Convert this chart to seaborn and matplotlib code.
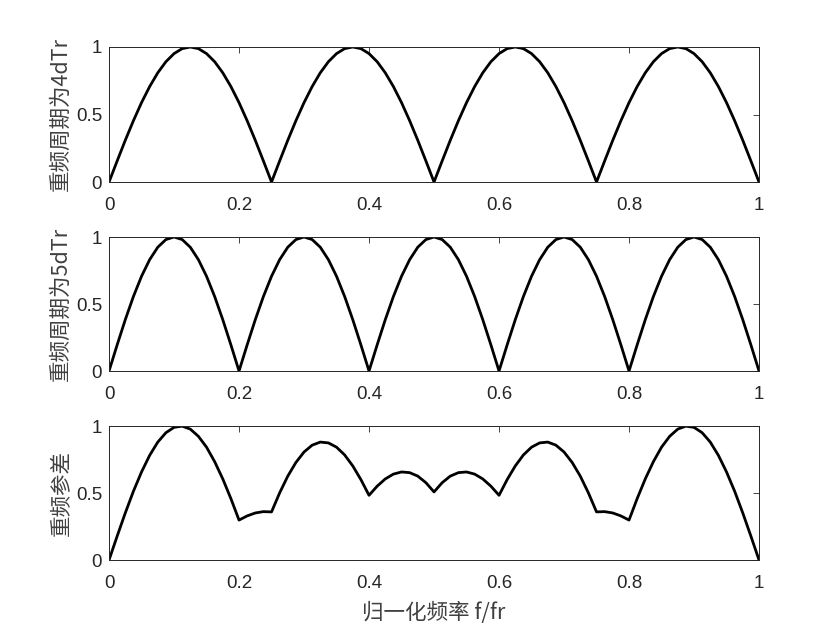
import numpy as np
import pandas as pd
import matplotlib
matplotlib.use("Agg")
import matplotlib.pyplot as plt
import seaborn as sns

freq = [round(i * 0.0125, 4) for i in range(81)]

lobe4 = [0, .156, .309, .454, .588, .707, .809, .891, .951, .988,
         1, .988, .951, .891, .809, .707, .588, .454, .309, .156]
resp_4dTr = lobe4 * 4 + [0]

lobe5 = [0, .195, .383, .556, .707, .831, .924, .981,
         1, .981, .924, .831, .707, .556, .383, .195]
resp_5dTr = lobe5 * 5 + [0]

half_stagger = [0, .178, .351, .513, .657, .781, .880, .950, .990, .999,
                .977, .923, .842, .734, .605, .458, .298, .329, .351, .361,
                .359, .501, .626, .728, .806, .857, .880, .874, .842, .784,
                .702, .600, .483, .551, .605, .641, .657, .652, .626, .577,
                .508]
resp_stagger = half_stagger + half_stagger[-2::-1]

ylabels = ["重频周期为4dTr", "重频周期为5dTr", "重频参差"]
xlabel = "归一化频率 f/fr"
xticks = [0, 0.2, 0.4, 0.6, 0.8, 1]
xticklabels = ["0", "0.2", "0.4", "0.6", "0.8", "1"]
yticks = [0, 0.5, 1]
yticklabels = ["0", "0.5", "1"]

# ---- styling ----
sns.set_style("white")
plt.rcParams["font.family"] = ["Liberation Sans", "Noto Sans CJK SC", "DejaVu Sans"]
plt.rcParams["axes.unicode_minus"] = False
cjk = ["Noto Sans CJK SC", "DejaVu Sans"]

fig = plt.figure(figsize=(8.4, 6.3), dpi=100)
left, width = 0.1298, 0.7738
boxes = [(0.7111, 0.2143), (0.4111, 0.2127), (0.1111, 0.2127)]
series = [resp_4dTr, resp_5dTr, resp_stagger]
axcol = "#262626"
labcol = "#404040"

for (bottom, height), vals, ylab in zip(boxes, series, ylabels):
    ax = fig.add_axes([left, bottom, width, height])
    df = pd.DataFrame({"f": freq, "v": vals})
    sns.lineplot(data=df, x="f", y="v", ax=ax, color="black", linewidth=2.0,
                 estimator=None, sort=False)
    ax.set_xlim(0, 1)
    ax.set_ylim(0, 1)
    ax.set_xticks(xticks)
    ax.set_xticklabels(xticklabels)
    ax.set_yticks(yticks)
    ax.set_yticklabels(yticklabels)
    ax.tick_params(direction="in", length=4.5, width=0.6, colors=axcol,
                   labelsize=13.5, top=True, right=True, labelcolor=axcol)
    ax.tick_params(axis="x", pad=11)
    ax.tick_params(axis="y", pad=5)
    for s in ax.spines.values():
        s.set_visible(True)
        s.set_color(axcol)
        s.set_linewidth(0.7)
    ax.set_xlabel("")
    ax.set_ylabel(ylab, fontsize=15.5, color=labcol, labelpad=3, family=cjk)

ax.set_xlabel(xlabel, fontsize=15.5, color=labcol, labelpad=7, family=cjk)

fig.savefig("out.png", dpi=100, facecolor="white")
